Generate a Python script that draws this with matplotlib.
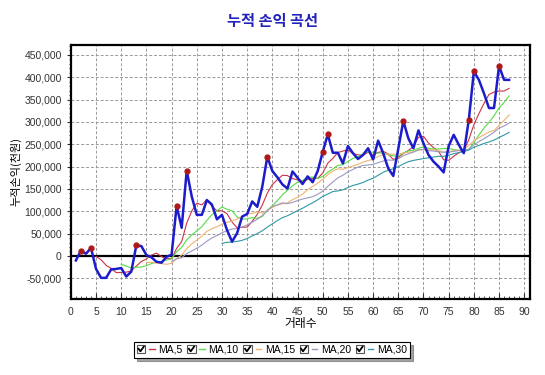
import numpy as np
import pandas as pd
import matplotlib
matplotlib.use("Agg")
import matplotlib.pyplot as plt
from matplotlib.ticker import MultipleLocator, FuncFormatter
from matplotlib.legend_handler import HandlerBase
from matplotlib.patches import Rectangle
from matplotlib.lines import Line2D

plt.rcParams['font.family'] = ['Liberation Sans', 'Noto Sans CJK KR', 'DejaVu Sans']

# ---- data ----
trades = list(range(1, 88))
cum_pnl = [-10000, 12000, 5000, 18000, -29000, -49000, -49000, -30000, -29000, -27000,
           -46000, -35000, 24000, 22000, 2000, -3000, -13000, -15000, -2000, 3000,
           112000, 63000, 191000, 133000, 92000, 92000, 125000, 115000, 82000, 92000,
           58000, 32000, 51000, 88000, 94000, 122000, 110000, 155000, 222000, 190000,
           176000, 160000, 151000, 189000, 175000, 161000, 178000, 165000, 190000, 233000,
           272000, 231000, 231000, 207000, 246000, 230000, 217000, 226000, 241000, 216000,
           258000, 230000, 196000, 179000, 240000, 302000, 263000, 241000, 281000, 252000,
           226000, 211000, 200000, 187000, 246000, 271000, 249000, 230000, 305000, 413000,
           394000, 364000, 331000, 331000, 425000, 394000, 394000]
ma_windows = [5, 10, 15, 20, 30]
ma_labels = ["MA,5", "MA,10", "MA,15", "MA,20", "MA,30"]
ma_colors = ["#cc3344", "#55dd44", "#f0b470", "#9c98c0", "#2f98a8"]

title = "누적 손익 곡선"
xlabel = "거래수"
ylabel = "누적손익(천원)"

# ---- figure ----
fig = plt.figure(figsize=(5.45, 3.75), dpi=100)
ax = fig.add_axes([0.130, 0.203, 0.843, 0.677])

s = pd.Series(cum_pnl, index=trades)
ma_handles = []
for w, lab, col in zip(ma_windows, ma_labels, ma_colors):
    ma = s.rolling(w).mean()
    h, = ax.plot(ma.index, ma.values, color=col, lw=0.8, label=lab, zorder=3)
    ma_handles.append(h)

ax.plot(trades, cum_pnl, color="#1c1ccc", lw=1.8, zorder=4)

# new-high markers
prev_max = s.shift(1).cummax().fillna(-np.inf)
is_high = (s > prev_max) & (s > 0)
ax.plot(s.index[is_high], s[is_high], 'o', color="#b01818", ms=3.5, zorder=5)

ax.axhline(0, color='black', lw=1.6, zorder=2)

ax.set_xlim(0, 91.2)
ax.set_ylim(-96000, 472000)
ax.xaxis.set_major_locator(MultipleLocator(5))
ax.xaxis.set_minor_locator(MultipleLocator(1))
ax.yaxis.set_major_locator(MultipleLocator(50000))
ax.yaxis.set_minor_locator(MultipleLocator(10000))
ax.yaxis.set_major_formatter(FuncFormatter(lambda v, _: f"{int(round(v)):,}"))
ax.grid(True, which='major', ls=(0, (3, 2)), color='#999999', lw=0.7)
ax.tick_params(axis='both', which='both', labelsize=7.5, colors='#333333')
ax.tick_params(axis='x', which='major', direction='in', length=4, pad=6)
ax.tick_params(axis='x', which='minor', direction='in', length=2)
ax.tick_params(axis='y', which='major', direction='out', length=3)
ax.tick_params(axis='y', which='minor', direction='out', length=1.5)
for sp in ax.spines.values():
    sp.set_linewidth(1.6)
    sp.set_color('black')

ax.set_xlabel(xlabel, fontsize=8.5, family=['Noto Sans CJK KR', 'DejaVu Sans'], labelpad=0)
ax.set_ylabel(ylabel, fontsize=8, family=['Noto Sans CJK KR', 'DejaVu Sans'], labelpad=2)
fig.text(0.5, 0.943, title, ha='center', va='center', fontsize=11, fontweight='bold',
         color='#2222bb', family=['Noto Sans CJK KR', 'DejaVu Sans'])


class CheckHandler(HandlerBase):
    def create_artists(self, legend, orig_handle, xdescent, ydescent, width, height,
                       fontsize, trans):
        sz = height * 1.15
        y0 = -ydescent + (height - sz) / 2
        x0 = -xdescent
        box = Rectangle((x0, y0), sz, sz, facecolor='white', edgecolor='#555555',
                        lw=0.8, transform=trans)
        chk = Line2D([x0 + sz * 0.2, x0 + sz * 0.42, x0 + sz * 0.82],
                     [y0 + sz * 0.55, y0 + sz * 0.25, y0 + sz * 0.8],
                     color='black', lw=1.3, transform=trans)
        ln = Line2D([x0 + sz + width * 0.22, width - xdescent], [y0 + sz / 2] * 2,
                    color=orig_handle.get_color(), lw=1.0, transform=trans)
        return [box, chk, ln]


leg = fig.legend(handles=ma_handles, labels=ma_labels, loc='center',
                 bbox_to_anchor=(0.499, 0.067), ncol=5, fontsize=7.5,
                 handler_map={Line2D: CheckHandler()}, handlelength=1.7,
                 handletextpad=0.35, columnspacing=0.45, borderpad=0.3,
                 fancybox=False, shadow=True, framealpha=1)
leg.get_frame().set_edgecolor('black')
leg.get_frame().set_linewidth(0.8)

fig.savefig("out.png", dpi=100)
